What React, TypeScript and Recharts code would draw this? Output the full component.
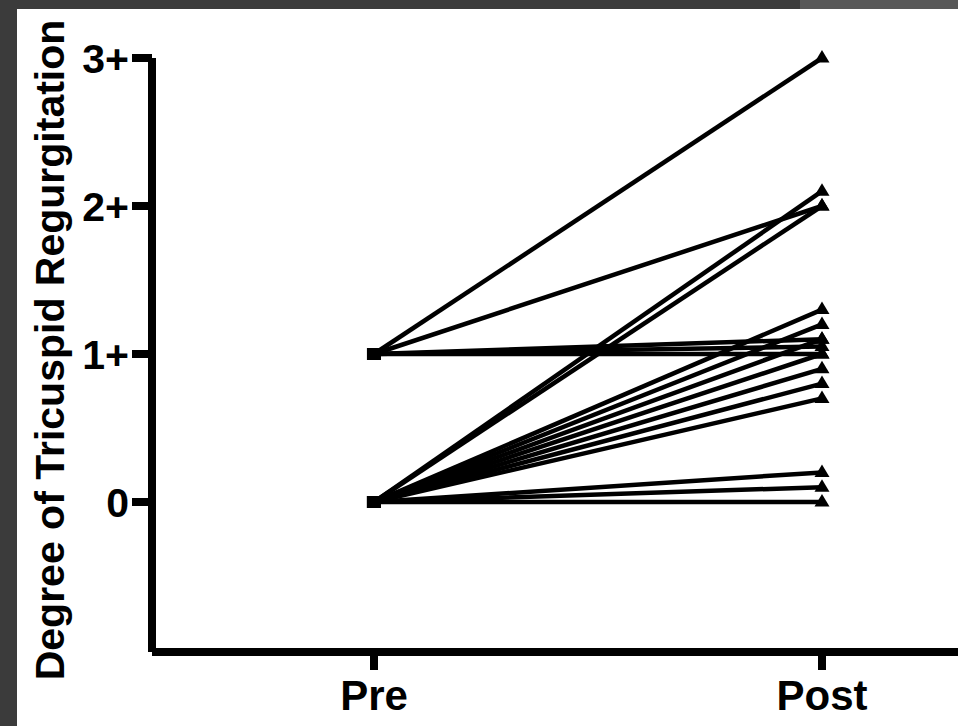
import { LineChart, Line, XAxis, YAxis } from "recharts";

// paired TR grades per patient, before and after the procedure
const phases = ["Pre", "Post"];
const preGrade = [1, 1, 1, 1, 1, 0, 0, 0, 0, 0, 0, 0, 0, 0, 0, 0, 0];
const postGrade = [3, 2, 1.1, 1.05, 1, 2.1, 2, 1.3, 1.2, 1.1, 1, 0.9, 0.8, 0.7, 0.2, 0.1, 0];
const gradeTicks = [0, 1, 2, 3];
const gradeLabels = ["0", "1+", "2+", "3+"];

const FONT = "'Liberation Sans', Arial, Helvetica, sans-serif";

const patients = preGrade.map((pre, i) => [
  { phase: 0, grade: pre },
  { phase: 1, grade: postGrade[i] },
]);

function renderDot(props: any) {
  const { cx, cy, index, key } = props;
  if (cx == null || cy == null) return <g key={key} />;
  if (index === 0) {
    return <rect key={key} x={cx - 7} y={cy - 6} width={14} height={12} fill="#000" />;
  }
  return (
    <path
      key={key}
      d={`M${cx},${cy - 8} L${cx + 7.5},${cy + 4.5} L${cx - 7.5},${cy + 4.5} Z`}
      fill="#000"
    />
  );
}

function YTitle() {
  return (
    <text
      x={64}
      y={350}
      transform="rotate(-90 64 350)"
      textAnchor="middle"
      fontFamily={FONT}
      fontWeight="bold"
      fontSize={41}
      fill="#000"
    >
      Degree of Tricuspid Regurgitation
    </text>
  );
}

export default function App() {
  return (
    <div style={{ position: "absolute", left: 0, top: 0, width: 958, height: 726, background: "#3b3b3b", overflow: "hidden" }}>
      <div style={{ position: "absolute", left: 800, top: 0, width: 158, height: 9, background: "#585858" }} />
      <div style={{ position: "absolute", left: 17, top: 9, width: 941, height: 717, background: "#fff" }} />
      <div style={{ position: "absolute", left: 0, top: 0 }}>
        <LineChart width={958} height={726} margin={{ top: 58, right: 0, bottom: 14, left: 52 }}>
          <XAxis
            type="number"
            dataKey="phase"
            domain={[-0.4955, 1.3036]}
            ticks={[0, 1]}
            tickFormatter={(v: number) => phases[v] ?? ""}
            height={60}
            tickSize={18}
            tickMargin={10}
            axisLine={{ stroke: "#000", strokeWidth: 8 }}
            tickLine={{ stroke: "#000", strokeWidth: 8 }}
            tick={{ fill: "#000", fontSize: 42, fontWeight: "bold", fontFamily: FONT }}
          />
          <YAxis
            type="number"
            dataKey="grade"
            domain={[-1.0135, 3]}
            ticks={gradeTicks}
            tickFormatter={(v: number) => gradeLabels[gradeTicks.indexOf(v)] ?? ""}
            width={100}
            tickSize={20}
            tickMargin={3}
            axisLine={{ stroke: "#000", strokeWidth: 8 }}
            tickLine={{ stroke: "#000", strokeWidth: 8 }}
            tick={{ fill: "#000", fontSize: 41, fontWeight: "bold", fontFamily: FONT }}
            label={{ content: () => <YTitle /> }}
          />
          {patients.map((d, i) => (
            <Line
              key={i}
              data={d}
              dataKey="grade"
              type="linear"
              stroke="#000"
              strokeWidth={4.5}
              dot={renderDot}
              activeDot={false}
              isAnimationActive={false}
            />
          ))}
        </LineChart>
      </div>
    </div>
  );
}
